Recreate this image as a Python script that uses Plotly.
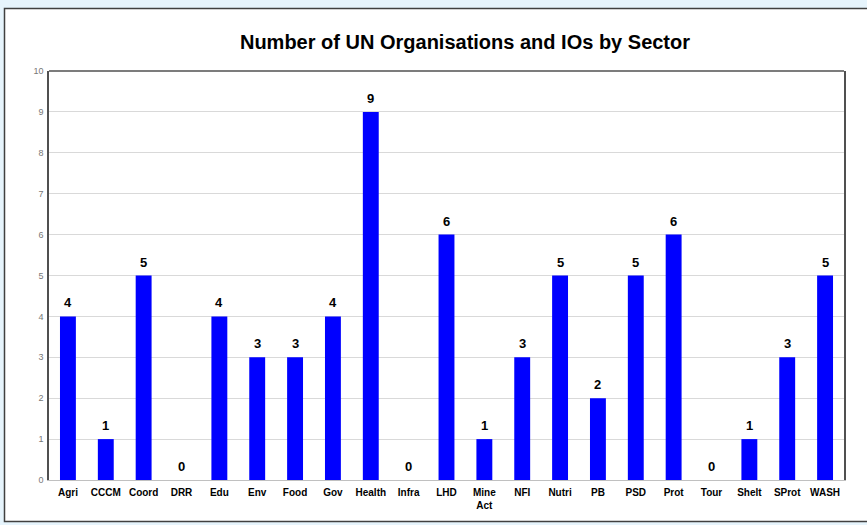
import plotly.graph_objects as go

categories = ["Agri", "CCCM", "Coord", "DRR", "Edu", "Env", "Food", "Gov", "Health", "Infra",
              "LHD", "Mine<br>Act", "NFI", "Nutri", "PB", "PSD", "Prot", "Tour", "Shelt", "SProt", "WASH"]
values = [4, 1, 5, 0, 4, 3, 3, 4, 9, 0, 6, 1, 3, 5, 2, 5, 6, 0, 1, 3, 5]
y_ticks = list(range(0, 11))

W, H = 867, 525
L, R, T, B = 49, 23, 71, 45
pw, ph = W - L - R, H - T - B

def px(x):
    return (x - L) / pw

def py(y):
    return (H - B - y) / ph

fig = go.Figure(go.Bar(
    x=categories, y=values,
    marker=dict(color="#0000ff", line=dict(width=0)),
    hoverinfo="x+y",
))

annotations = [
    dict(x=c, y=v, xref="x", yref="y", text=f"<b>{v}</b>", showarrow=False,
         yanchor="bottom", yshift=4,
         font=dict(family="Liberation Sans, Arial", size=13, color="#000000"))
    for c, v in zip(categories, values)
]

fig.update_layout(
    width=W, height=H,
    margin=dict(l=L, r=R, t=T, b=B),
    paper_bgcolor="#e6f4fc",
    plot_bgcolor="#ffffff",
    bargap=0.58,
    showlegend=False,
    font=dict(family="Liberation Sans, Arial", color="#000000"),
    title=dict(text="<b>Number of UN Organisations and IOs by Sector</b>",
               xref="container", x=465 / W, xanchor="center", y=1 - 42 / H, yanchor="middle",
               font=dict(size=20, color="#000000")),
    annotations=annotations,
    shapes=[
        dict(type="rect", xref="paper", yref="paper", layer="below",
             x0=px(4.5), x1=px(900), y0=py(521.5), y1=py(8.5),
             fillcolor="#ffffff", line=dict(color="#404040", width=1.5)),
        dict(type="line", xref="paper", yref="paper",
             x0=0, x1=1, y0=1, y1=1, line=dict(color="#505050", width=1.5)),
    ],
)

fig.update_xaxes(
    tickfont=dict(size=10, color="#000000", family="Liberation Sans, Arial"),
    tickprefix="<b>", ticksuffix="</b>",
    showline=True, linecolor="#c0c0c0", linewidth=1,
    showgrid=False, ticks="", ticklen=0, ticklabelstandoff=3,
)
fig.update_yaxes(
    range=[0, 10], tickvals=y_ticks,
    tickfont=dict(size=9, color="#777777"),
    showgrid=True, gridcolor="#d9d9d9", gridwidth=1,
    showline=True, linecolor="#505050", linewidth=1.5, mirror=True,
    zeroline=False, ticks="", ticklen=0, ticklabelstandoff=2,
)

fig.write_html(
    "out.html",
    config={"displayModeBar": False},
    post_script="document.body.style.margin='0';document.body.style.padding='0';"
                "document.body.style.background='#e6f4fc';",
)
